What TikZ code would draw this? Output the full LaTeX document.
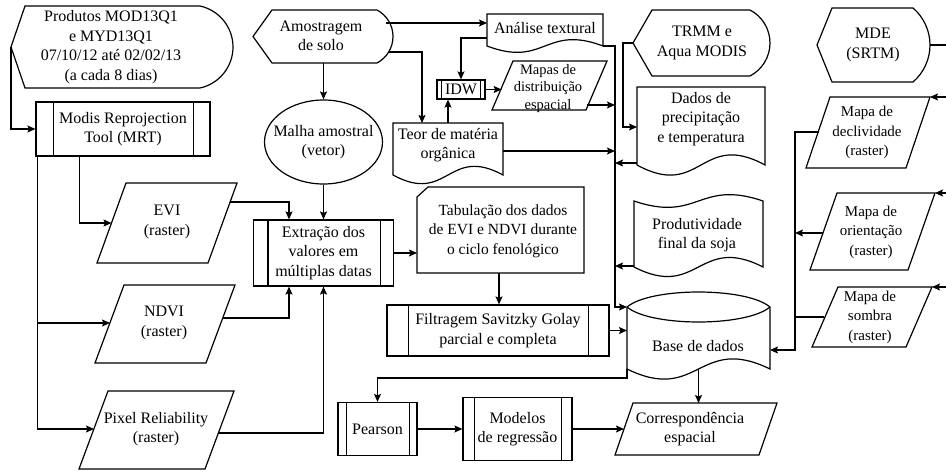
\documentclass[tikz,border=0pt]{standalone}
\usepackage{fontspec}
\setmainfont{Liberation Serif}
\usetikzlibrary{arrows.meta,shapes.geometric}
\newcommand\dispshape[6]{%
 \pgfmathsetmacro\dsH{(#4-#2)/2}%
 \pgfmathsetmacro\dsM{(#4+#2)/2}%
 \pgfmathsetmacro\dsR{(#6*#6+\dsH*\dsH)/(2*#6)}%
 \pgfmathsetmacro\dsT{asin(\dsH/\dsR)}%
 \pgfmathsetmacro\dsK{4/3*tan(\dsT/4)*\dsR}%
 \pgfmathsetmacro\dsX{\dsH/\dsR*\dsK}%
 \pgfmathsetmacro\dsY{(\dsR-#6)/\dsR*\dsK}%
 \draw (#1,\dsM) -- ({#1+#5},#2) -- ({#3-#6},#2)
   .. controls ({#3-#6+\dsX},{#2+\dsY}) and (#3,{\dsM-\dsK}) .. (#3,\dsM)
   .. controls (#3,{\dsM+\dsK}) and ({#3-#6+\dsX},{#4-\dsY}) .. ({#3-#6},#4)
   -- ({#1+#5},#4) -- cycle;}
\newcommand\docshape[5]{%
 \draw (#1,#2) -- (#3,#2) -- (#3,#4) .. controls ({(#1+#3)/2},{#4-#5}) and ({(#1+#3)/2},{#4+#5}) .. (#1,#4) -- cycle;}
\newcommand\tapeshape[6]{%
 \draw (#1,#2) .. controls ({(#1+#3)/2},{#2+#5}) and ({(#1+#3)/2},{#2-#5}) .. (#3,#2) -- (#3,#4) .. controls ({(#1+#3)/2},{#4-#6}) and ({(#1+#3)/2},{#4+#6}) .. (#1,#4) -- cycle;}
\newcommand\parashape[5]{%
 \draw (#1,#2) -- (#3,#2) -- ({#3-#5},#4) -- ({#1-#5},#4) -- cycle;}
\newcommand\innerlines[3]{%
 \draw ([xshift=#2]#1.north west) -- ([xshift=#2]#1.south west);
 \draw ([xshift=-#3]#1.north east) -- ([xshift=-#3]#1.south east);}
\begin{document}
\begin{tikzpicture}[x=1pt,y=-1pt,line width=1.2pt,
 arr/.style={-{Stealth[length=8pt,width=7pt,inset=1.5pt]}},
 lbl/.style={align=center,inner sep=0pt,font=\fontsize{16}{19.5}\selectfont},
 sml/.style={align=center,inner sep=0pt,font=\fontsize{14.5}{17.5}\selectfont},
 mid/.style={align=center,inner sep=0pt,font=\fontsize{15}{19.5}\selectfont},
 tabf/.style={align=center,inner sep=0pt,font=\fontsize{15.5}{19.5}\selectfont},
 pbox/.style={draw,rectangle,inner sep=0pt,lbl},
 anchorbox/.style={rectangle,inner sep=0pt}]
\useasboundingbox (0,0) rectangle (946,471);

% ---------- shapes and texts ----------
\dispshape{11}{6}{233}{88}{14}{33}
\node[lbl] (prod) at (111,47) {Produtos MOD13Q1\\e MYD13Q1\\07/10/12 até 02/02/13\\(a cada 8 dias)};

\node[pbox,minimum width=174,minimum height=54] (mrt) at (123,129) {Modis Reprojection\\Tool (MRT)};
\innerlines{mrt}{18}{17}

\dispshape{253}{10}{393}{63}{19}{16}
\node[lbl] (amo) at (321,36) {Amostragem\\de solo};

\docshape{487}{14}{603}{46}{22}
\node[lbl] (ana) at (545,28) {Análise textural};

\node[pbox,minimum width=48,minimum height=19] (idw) at (461,89.5) {IDW};
\innerlines{idw}{5}{5}

\parashape{513}{61}{607}{110}{21}
\node[sml] (mapas) at (548,88.5) {Mapas de\\distribuição\\espacial};

\node[anchorbox,lbl,minimum width=118,minimum height=84] (malha) at (323.5,142) {Malha amostral\\(vetor)};
\draw (malha.center) ellipse [x radius=59pt, y radius=42pt];

\docshape{393}{123}{503}{175}{30}
\node[lbl] (teor) at (448,145) {Teor de matéria\\orgânica};

\dispshape{633}{10}{770}{76}{19}{20}
\node[lbl] (trmm) at (702,43) {TRMM e\\Aqua MODIS};

\docshape{637}{87}{765}{165}{35}
\node[lbl] (dados) at (701,119) {Dados de\\precipitação\\e temperatura};

\dispshape{817}{8}{930}{82}{15}{17}
\node[lbl] (mde) at (873,45) {MDE\\(SRTM)};

\parashape{830}{97}{930}{168}{24}
\node[mid] (decl) at (867,132.5) {Mapa de\\declividade\\(raster)};
\parashape{837}{193}{935}{270}{27}
\node[mid] (orie) at (871,232) {Mapa de\\orientação\\(raster)};
\parashape{838}{287}{932}{347}{26}
\node[mid] (somb) at (870,317) {Mapa de\\sombra\\(raster)};

\parashape{126}{183}{237}{263}{29}
\node[lbl] (evi) at (167,222) {EVI\\(raster)};
\parashape{124}{285}{235}{363}{29}
\node[lbl] (ndvi) at (164,323) {NDVI\\(raster)};
\parashape{108}{391}{234}{469}{29}
\node[lbl] (pix) at (156,429) {Pixel Reliability\\(raster)};

\node[pbox,minimum width=140,minimum height=66] (extr) at (323.5,253) {Extração dos\\valores em\\múltiplas datas};
\innerlines{extr}{15}{14}

\draw (417,197) -- (428,187) -- (584,187) -- (584,273) -- (417,273) -- cycle;
\node[tabf] (tab) at (503,231) {Tabulação dos dados\\de EVI e NDVI durante\\o ciclo fenológico};

\node[pbox,minimum width=222,minimum height=51] (filt) at (498,330.5) {Filtragem Savitzky Golay\\parcial e completa};
\innerlines{filt}{22}{21}

\tapeshape{634}{201}{763}{267}{22}{33}
\node[lbl] (prodv) at (697,235) {Produtividade\\final da soja};

\draw (627,307) .. controls (651,287) and (746,287) .. (770,307) -- (770,369)
  .. controls (698.5,334) and (698.5,404) .. (627,369) -- cycle;
\draw (627,307) .. controls (651,327) and (746,327) .. (770,307);
\node[lbl] (base) at (698,346) {Base de dados};

\node[pbox,minimum width=79,minimum height=53] (pear) at (377.5,429) {Pearson};
\innerlines{pear}{9}{8}
\node[pbox,minimum width=109,minimum height=63] (mod) at (517.5,429) {Modelos\\de regressão};
\innerlines{mod}{12}{11}

\parashape{633}{403}{777}{455}{18}
\node[lbl] (corr) at (690,429) {Correspondência\\espacial};

% ---------- ports ----------
\coordinate (prod-w) at (11,47);
\coordinate (mrt-s1) at ([xshift=2]mrt.south west);
\coordinate (mrt-s2) at ([xshift=44]mrt.south west);
\coordinate (evi-w) at (111.5,223);
\coordinate (evi-e) at (230,202);
\coordinate (ndvi-w) at (110,323);
\coordinate (ndvi-e) at (222.7,318);
\coordinate (pix-w) at (94,429);
\coordinate (pix-e) at (218.4,433);
\coordinate (extr-n1) at ([xshift=-34.5]extr.north);
\coordinate (extr-s1) at ([xshift=-34.5]extr.south);
\coordinate (amo-e1) at (386,23);
\coordinate (amo-e2) at (389,52);
\coordinate (amo-s) at (323.5,63);
\coordinate (ana-w1) at (487,23);
\coordinate (ana-w2) at (487,38);
\coordinate (ana-e) at (603,46);
\coordinate (teor-n1) at (448,123);
\coordinate (teor-n2) at (422,123);
\coordinate (teor-e) at (503,151);
\coordinate (mapas-w) at (501.6,89.5);
\coordinate (mapas-e) at (587,105);
\coordinate (bus) at (615,46);
\coordinate (trmm-w) at (633,43);
\coordinate (dados-w1) at (637,127);
\coordinate (dados-w2) at (637,163);
\coordinate (prodv-w) at (634,266);
\coordinate (tab-w) at (417,253);
\coordinate (tab-s) at (499,273);
\coordinate (base-w1) at (627,307);
\coordinate (base-sw) at (627,369);
\coordinate (base-s) at (698.5,369);
\coordinate (base-e) at (770,350);
\coordinate (corr-w) at (624,429);
\coordinate (corr-n) at (698.5,403);
\coordinate (mde-e) at (930,45);
\coordinate (edge0) at (946,45);
\coordinate (edge1) at (946,97);
\coordinate (edge2) at (946,193);
\coordinate (edge3) at (946,287);
\coordinate (decl-ne) at (930,97);
\coordinate (orie-ne) at (935,193);
\coordinate (somb-ne) at (932,287);
\coordinate (decl-w) at (818.7,132);
\coordinate (orie-w) at (823,233);
\coordinate (somb-w) at (824,317);
\coordinate (rbus) at (795,132);

% ---------- connectors ----------
\draw[arr] (prod-w) |- (mrt.west);
\draw[arr] (mrt-s1) |- (pix-w);
\draw[arr] (mrt-s1 |- ndvi-w) -- (ndvi-w);
\draw[arr] (mrt-s2) |- (evi-w);
\draw[arr] (evi-e) -| (extr-n1);
\draw[arr] (ndvi-e) -| (extr-s1);
\draw[arr] (pix-e) -| (extr.south);
\draw[arr] (amo-s) -- (malha.north);
\draw[arr] (malha.south) -- (extr.north);
\draw[arr] (amo-e1) -- (ana-w1);
\draw[arr] (amo-e2) -| (teor-n2);
\draw[arr] (ana-w2) -| (idw.north);
\draw[arr] (teor-n1) -- (teor-n1 |- idw.south);
\draw[arr] (idw.east) -- (mapas-w);
\draw[arr] (mapas-e) -- (mapas-e -| bus);
\draw[arr] (teor-e) -- (teor-e -| bus);
\draw[arr] (ana-e) -- (bus) -- (bus |- base-w1) -- (base-w1);
\draw[arr] (dados-w2) -- (dados-w2 -| bus);
\draw[arr] (prodv-w) -- (prodv-w -| bus);
\draw[arr] (trmm-w) -- (623,43) -- (623,127) -- (dados-w1);
\draw[arr] (extr.east |- tab-w) -- (tab-w);
\draw[arr] (tab-s) -- (tab-s |- filt.north);
\draw[arr] (filt.east) -- (filt.east -| base-w1);
\draw[arr] (base-sw) -- (627,378) -| (pear.north);
\draw[arr] (pear.east) -- (mod.west);
\draw[arr] (mod.east) -- (corr-w);
\draw[arr] (base-s) -- (corr-n);
\draw (mde-e) -- (edge0);
\draw[arr] (edge1) -- (decl-ne);
\draw[arr] (edge2) -- (orie-ne);
\draw[arr] (edge3) -- (somb-ne);
\draw[arr] (decl-w) -- (rbus) -- (rbus |- base-e) -- (base-e);
\draw[arr] (orie-w) -- (orie-w -| rbus);
\draw (somb-w) -- (somb-w -| rbus);
\end{tikzpicture}
\end{document}
